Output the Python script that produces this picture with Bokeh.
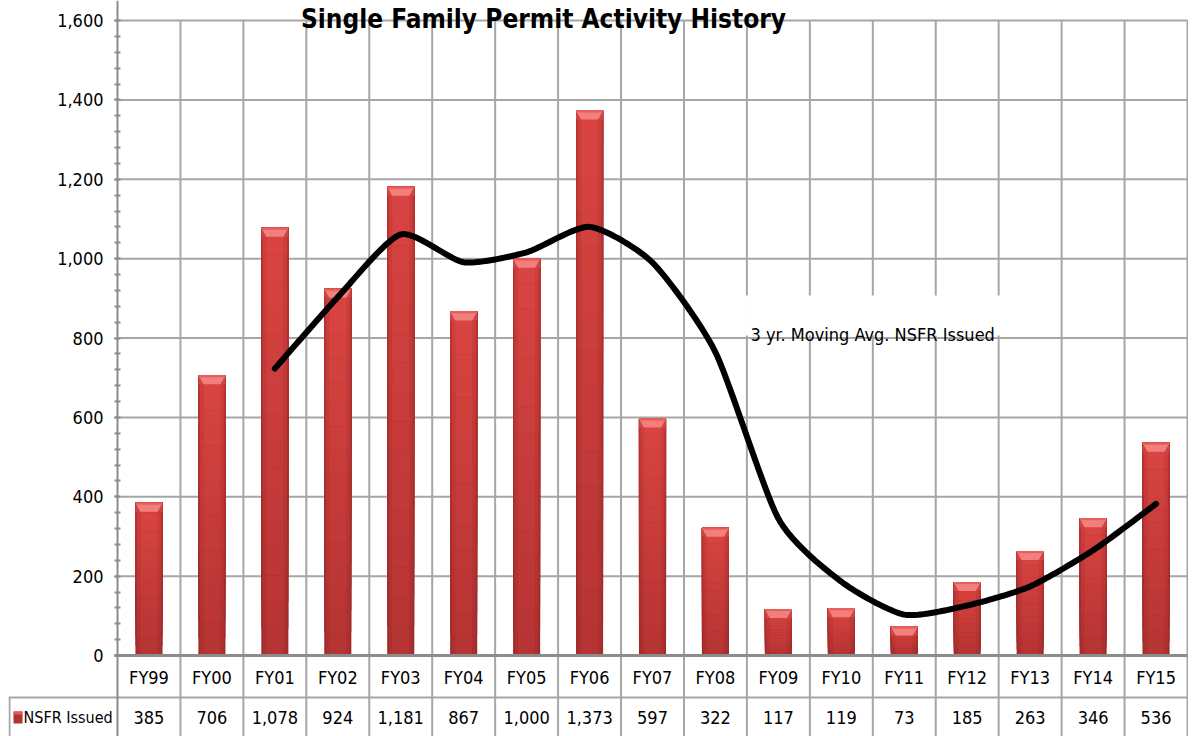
import numpy as np
from bokeh.plotting import figure
from bokeh.models import Range1d, FixedTicker, NumeralTickFormatter, LinearAxis
from bokeh.core.properties import value
from bokeh.embed import file_html
from bokeh.resources import INLINE

# ---------------- data ----------------
categories = ["FY99", "FY00", "FY01", "FY02", "FY03", "FY04", "FY05", "FY06", "FY07",
              "FY08", "FY09", "FY10", "FY11", "FY12", "FY13", "FY14", "FY15"]
nsfr_issued = [385, 706, 1078, 924, 1181, 867, 1000, 1373, 597, 322, 117, 119, 73, 185, 263, 346, 536]
moving_avg_categories = categories[2:]
moving_avg = [723, 903, 1061, 991, 1016, 1080, 990, 764, 345, 186, 103, 126, 174, 265, 382]
y_ticks = [0, 200, 400, 600, 800, 1000, 1200, 1400, 1600]
series_label = "NSFR Issued"
line_label = "3 yr. Moving Avg. NSFR Issued"
title_text = "Single Family Permit Activity History"

FONT = "DejaVu Sans Condensed"
GRID = "#a6a6a6"
AXIS = "#8c8c8c"
FS = "18px"

# ---------------- geometry (pixels, canvas = picture coords) ----------------
W = 1188
H = 736
FRAME_LEFT = 8          # frame begins here; the value axis is drawn at a fixed location
AXIS_PX = 117           # x pixel of the value axis line (left edge of FY99)
PX_PER_CAT = (1187 - AXIS_PX) / 17.0
x_start = -0.5 - (AXIS_PX - FRAME_LEFT) / PX_PER_CAT
x_end = -0.5 + (W - AXIS_PX) / PX_PER_CAT
Y0_PX, Y1600_PX = 655.0, 20.0
KPX = (Y0_PX - Y1600_PX) / 1600.0
y_end = 1600 + Y1600_PX / KPX
y_start = -(H - Y0_PX) / KPX

def xpx(px):
    return (px - AXIS_PX) / PX_PER_CAT - 0.5

def ypx(py):
    return (Y0_PX - py) / KPX

n = len(categories)
xs = list(range(n))
idx = {c: i for i, c in enumerate(categories)}

p = figure(width=W, height=H, x_range=Range1d(x_start, x_end), y_range=Range1d(y_start, y_end),
           x_axis_location=None, output_backend="svg", toolbar_location=None,
           min_border_left=FRAME_LEFT, min_border_right=0, min_border_top=0, min_border_bottom=0)
p.outline_line_color = None
p.background_fill_color = "white"
p.border_fill_color = "white"
p.xgrid.visible = False
p.ygrid.visible = False

minor = list(range(0, 1601, 40))

# value axis: line + ticks (labels blanked), drawn at the FY99 edge
ax = p.yaxis[0]
ax.fixed_location = -0.5
ax.ticker = FixedTicker(ticks=y_ticks, minor_ticks=minor)
ax.major_label_overrides = {t: "" for t in y_ticks}
ax.major_label_standoff = 0
ax.axis_line_color = AXIS
ax.axis_line_width = 2
ax.major_tick_line_color = AXIS
ax.major_tick_line_width = 2
ax.major_tick_in = 0
ax.major_tick_out = 3
ax.minor_tick_line_color = AXIS
ax.minor_tick_line_width = 2
ax.minor_tick_in = 3
ax.minor_tick_out = 3

# value axis labels
LAB_STANDOFF = -60
ax2 = LinearAxis(fixed_location=xpx(103 + LAB_STANDOFF),
                 ticker=FixedTicker(ticks=y_ticks, minor_ticks=[]),
                 formatter=NumeralTickFormatter(format="0,0"),
                 axis_line_color=None, major_tick_line_color=None, minor_tick_line_color=None,
                 major_tick_in=0, major_tick_out=0, minor_tick_in=0, minor_tick_out=0,
                 major_label_standoff=LAB_STANDOFF, major_label_text_font=FONT,
                 major_label_text_font_size=FS, major_label_text_color="black")
p.add_layout(ax2, "left")

# horizontal gridlines (chart area only)
m = len(y_ticks)
p.segment(x0=[-0.5] * m, x1=[n - 0.5] * m, y0=y_ticks, y1=y_ticks,
          line_color=GRID, line_width=2, level="underlay")
# vertical category separators (chart + data table)
bounds = [i + 0.5 for i in range(n)]
p.segment(x0=bounds, x1=bounds, y0=[y_start] * n, y1=[1600] * n,
          line_color=GRID, line_width=2, level="underlay")

# annotation backdrop
p.quad(left=[xpx(745)], right=[xpx(1010)], bottom=[ypx(335)], top=[ypx(295)],
       fill_color="white", line_color=None)

# ---------------- bars with gradient ----------------
def mix(c1, c2, t):
    return "#%02x%02x%02x" % tuple(int(round(a + (b - a) * t)) for a, b in zip(c1, c2))

BOT_EDGE, TOP_EDGE = (158, 42, 42), (184, 52, 50)
BOT_MID, TOP_MID = (172, 48, 47), (205, 62, 60)
BOT_CEN, TOP_CEN = (182, 52, 51), (216, 68, 65)
BW = 0.43
K = 16
for k in range(K):
    t = k / (K - 1)
    bottoms = [v * k / K for v in nsfr_issued]
    p.vbar(x=xs, bottom=bottoms, top=nsfr_issued, width=BW, fill_color=mix(BOT_EDGE, TOP_EDGE, t), line_color=None)
    p.vbar(x=xs, bottom=bottoms, top=nsfr_issued, width=BW * 0.88, fill_color=mix(BOT_MID, TOP_MID, t), line_color=None)
    p.vbar(x=xs, bottom=bottoms, top=nsfr_issued, width=BW * 0.62, fill_color=mix(BOT_CEN, TOP_CEN, t), line_color=None)

# top bevel
bh = 9 / KPX
bd = 5 / PX_PER_CAT
p.vbar(x=xs, bottom=[v - bh for v in nsfr_issued], top=nsfr_issued, width=BW, fill_color="#cf4543", line_color=None)
px_, py_ = [], []
for x, v in zip(xs, nsfr_issued):
    px_.append([x - BW / 2, x + BW / 2, x + BW / 2 - bd, x - BW / 2 + bd])
    py_.append([v, v, v - bh, v - bh])
p.patches(px_, py_, fill_color="#f37f7c", line_color=None)
p.vbar(x=xs, bottom=[v - 2 / KPX for v in nsfr_issued], top=nsfr_issued, width=BW - 2 * bd * 0.3,
       fill_color="#e65e5b", line_color=None)

# ---------------- smoothed moving average line ----------------
def smooth(xv, yv, steps=24, tension=9.0):
    pts = np.array(list(zip(xv, yv)), dtype=float)
    ox, oy = [], []
    mm = len(pts)
    for i in range(mm - 1):
        p0 = pts[i - 1] if i > 0 else pts[i]
        p1, p2 = pts[i], pts[i + 1]
        p3 = pts[i + 2] if i + 2 < mm else pts[i + 1]
        c1 = p1 + (p2 - p0) / tension
        c2 = p2 - (p3 - p1) / tension
        ts = np.linspace(0, 1, steps, endpoint=(i == mm - 2))
        for t in ts:
            b = (1 - t) ** 3 * p1 + 3 * (1 - t) ** 2 * t * c1 + 3 * (1 - t) * t ** 2 * c2 + t ** 3 * p2
            ox.append(b[0]); oy.append(b[1])
    return ox, oy

lx, ly = smooth([idx[c] for c in moving_avg_categories], moving_avg)
p.line(lx, ly, line_color="black", line_width=6, line_join="round", line_cap="round")

# zero line
p.segment(x0=[xpx(114)], x1=[n - 0.5], y0=[0], y1=[0], line_color=AXIS, line_width=3)

# ---------------- data table ----------------
p.text(x=xs, y=[ypx(677)] * n, text=categories, text_font=value(FONT), text_font_size=FS,
       text_align="center", text_baseline="middle", text_color="black")
p.segment(x0=[xpx(8)], x1=[x_end], y0=[ypx(697)], y1=[ypx(697)], line_color=GRID, line_width=2)
p.segment(x0=[xpx(9)], x1=[xpx(9)], y0=[ypx(697)], y1=[y_start], line_color=GRID, line_width=2)
p.text(x=xs, y=[ypx(717)] * n, text=[f"{v:,}" for v in nsfr_issued], text_font=value(FONT),
       text_font_size=FS, text_align="center", text_baseline="middle", text_color="black")
p.text(x=[xpx(23)], y=[ypx(717)], text=[series_label], text_font=value(FONT), text_font_size="16px",
       text_align="left", text_baseline="middle", text_color="black")
# legend swatch
p.quad(left=[xpx(13)], right=[xpx(22)], bottom=[ypx(723)], top=[ypx(711)], fill_color="#b03432", line_color=None)
p.quad(left=[xpx(13)], right=[xpx(22)], bottom=[ypx(714)], top=[ypx(711)], fill_color="#e35a58", line_color=None)

# title and annotation
p.text(x=[xpx(543)], y=[ypx(18)], text=[title_text], text_font=value(FONT), text_font_style="bold",
       text_font_size="26px", text_align="center", text_baseline="alphabetic", text_color="black")
p.text(x=[xpx(750)], y=[ypx(334)], text=[line_label], text_font=value(FONT), text_font_size=FS,
       text_align="left", text_baseline="alphabetic", text_color="black")

open("out.html", "w").write(file_html(p, INLINE))
